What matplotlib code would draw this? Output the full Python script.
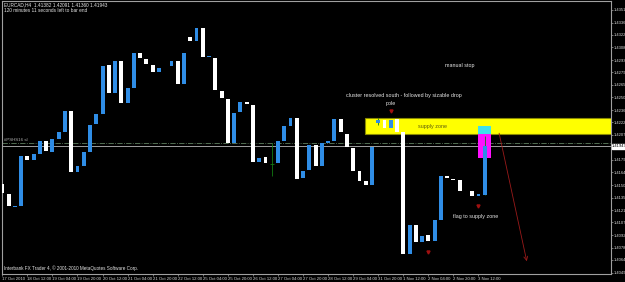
import matplotlib
matplotlib.use("Agg")
import matplotlib.pyplot as plt
from matplotlib.patches import Rectangle

plt.rcParams['font.family'] = ['Liberation Sans', 'DejaVu Sans']

# EURCAD H4 candles (open / close)
opens = [1.41508, 1.41394, 1.41250, 1.41256, 1.41828, 1.41783, 1.41851, 1.42000, 1.41874, 1.42023,
         1.42103, 1.42355, 1.41645, 1.41714, 1.41874, 1.42206, 1.42320, 1.42881, 1.42561, 1.42927,
         1.42446, 1.42618, 1.43018, 1.42949, 1.42881, 1.42801, 1.42850, 1.42869, 1.42927, 1.42663,
         1.43201, 1.43155, 1.43304, 1.42972, 1.42961, 1.42583, 1.42492, 1.41988, 1.42343, 1.42458,
         1.42423, 1.41760, 1.41817, 1.41737, 1.41748, 1.42000, 1.42172, 1.42274, 1.41577, 1.41668,
         1.41954, 1.41714, 1.41988, 1.42000, 1.42263, 1.42091, 1.41920, 1.41657, 1.41542, 1.41497,
         1.42217, 1.42252, 1.42149, 1.42263, 1.42114, 1.40707, 1.41039, 1.40844, 1.40925, 1.40856,
         1.41096, 1.41600, 1.41565, 1.41554, 1.41428, 1.41428, 1.41371, 1.41382]
closes = [1.41405, 1.41256, 1.41262, 1.41828, 1.41783, 1.41851, 1.42000, 1.41886, 1.42023, 1.42103,
          1.42355, 1.41645, 1.41714, 1.41874, 1.42194, 1.42320, 1.42869, 1.42561, 1.42927, 1.42446,
          1.42618, 1.43018, 1.42961, 1.42892, 1.42801, 1.42847, 1.42852, 1.42927, 1.42663, 1.43018,
          1.43155, 1.43304, 1.42972, 1.42980, 1.42595, 1.42503, 1.41988, 1.42332, 1.42458, 1.42435,
          1.41760, 1.41805, 1.41748, 1.41737, 1.42000, 1.42172, 1.42274, 1.41565, 1.41657, 1.41954,
          1.41714, 1.41988, 1.42000, 1.42263, 1.42103, 1.41931, 1.41657, 1.41542, 1.41497, 1.41931,
          1.42252, 1.42149, 1.42252, 1.42114, 1.40707, 1.41039, 1.40844, 1.40913, 1.40856, 1.41096,
          1.41600, 1.41577, 1.41554, 1.41428, 1.41428, 1.41371, 1.41394, 1.41943]

# only the wicks that are visible on the chart
wick_idx = [43, 60, 77]
wick_high = [1.41988, 1.42274, 1.42057]
wick_low = [1.41600, 1.42194, 1.41382]

price_ticks = ['1.43510', '1.43365', '1.43225', '1.43080', '1.42935', '1.42795', '1.42650', '1.42505',
               '1.42360', '1.42220', '1.42075', '1.41930', '1.41790', '1.41645', '1.41500', '1.41355',
               '1.41210', '1.41070', '1.40925', '1.40780', '1.40640', '1.40490']
time_labels = ['17 Oct 2010', '18 Oct 12:00', '19 Oct 04:00', '19 Oct 20:00', '20 Oct 12:00',
               '21 Oct 04:00', '21 Oct 20:00', '22 Oct 12:00', '25 Oct 04:00', '25 Oct 20:00',
               '26 Oct 12:00', '27 Oct 04:00', '27 Oct 20:00', '28 Oct 12:00', '29 Oct 04:00',
               '31 Oct 20:00', '1 Nov 12:00', '2 Nov 04:00', '2 Nov 20:00', '3 Nov 12:00']

bid = 1.41943
sl_level = 1.41988
supply_top, supply_bottom = 1.42274, 1.42091
cyan_top, magenta_bottom = 1.42172, 1.41805

fig = plt.figure(figsize=(6.25, 2.82), dpi=100, facecolor='black')
ax = fig.add_axes([2 / 625, 1 - 274 / 282, 609 / 625, 273 / 282], facecolor='black')

n = len(opens)
x = list(range(n))
blue = '#2f8de6'
bull = [c >= o for o, c in zip(opens, closes)]
bottoms = [min(o, c) for o, c in zip(opens, closes)]
heights = [abs(c - o) for o, c in zip(opens, closes)]
colors = [blue if b else 'white' for b in bull]

# zones and boxes
ax.add_patch(Rectangle((57.9, supply_bottom), 40, supply_top - supply_bottom,
                       facecolor='#ffff00', edgecolor='#8a8a00', lw=0.8, zorder=1))
ax.add_patch(Rectangle((76, supply_bottom), 2, cyan_top - supply_bottom,
                       facecolor='#3fe0ea', edgecolor='none', zorder=1.5))
ax.add_patch(Rectangle((76, magenta_bottom), 2, supply_bottom - magenta_bottom,
                       facecolor='#ff10ff', edgecolor='none', zorder=1.5))

# lines
ax.axhline(sl_level, color='#5f7f5f', lw=0.6, ls='-.', zorder=1.2)
ax.axhline(bid, color='#b8b8b8', lw=0.6, zorder=1.2)

# wicks and candles
ax.vlines([x[i] for i in wick_idx], wick_low, wick_high, color='#127a12', lw=0.6, zorder=2)
ax.hlines(closes[43], 42.7, 43.3, color='#127a12', lw=0.6, zorder=2)
ax.bar(x, heights, bottom=bottoms, width=0.62, color=colors, linewidth=0, zorder=3)

# arrows and annotations
ax.plot([62, 76, 68], [1.42355, 1.41256, 1.40730], 'v', color='#a01010', ms=2.2, zorder=4)
ax.annotate('', xy=(83.8, 1.40593), xytext=(79.2, 1.42126),
            arrowprops=dict(arrowstyle='->', color='#9a1a1a', lw=0.6,
                            mutation_scale=7), zorder=4)

tcol = '#e6e6e6'
fs = 3.9
ax.text(73, 1.42869, 'manual stop', color=tcol, fontsize=fs, ha='center', va='center')
ax.text(54.8, 1.42532, 'cluster resolved south - followed by sizable drop', color=tcol,
        fontsize=fs, ha='left', va='center')
ax.text(62, 1.42435, 'pole', color=tcol, fontsize=fs, ha='center', va='center')
ax.text(66.4, 1.42172, 'supply zone', color='#5a5a10', fontsize=fs, ha='left', va='center', zorder=4)
ax.text(72, 1.41142, 'flag to supply zone', color=tcol, fontsize=fs, ha='left', va='center')
ax.text(0.2, 1.42020, '#PSHS16 sl', color='#b0b0b0', fontsize=3.2, ha='left', va='center')

ax.text(0.003, 0.995, 'EURCAD,H4  1.41382 1.42091 1.41360 1.41943', color=tcol, fontsize=3.4,
        transform=ax.transAxes, ha='left', va='top')
ax.text(0.003, 0.973, '120 minutes 11 seconds left to bar end', color=tcol, fontsize=3.4,
        transform=ax.transAxes, ha='left', va='top')
ax.text(0.003, 0.012, 'Interbank FX Trader 4, \u00a9 2001-2010 MetaQuotes Software Corp.',
        color=tcol, fontsize=3.3, transform=ax.transAxes, ha='left', va='bottom')

# axes
ax.set_xlim(-0.05, 97.15)
ax.set_ylim(1.40478, 1.43613)
for s in ax.spines.values():
    s.set_color('#a0a0a0')
    s.set_linewidth(0.8)

ax.yaxis.tick_right()
ax.set_yticks([float(t) for t in price_ticks])
ax.set_yticklabels(price_ticks)
ax.tick_params(axis='y', colors='#a0a0a0', labelcolor='#d8d8d8', labelsize=3.0,
               length=1.5, width=0.5, pad=0.5)

ax.set_xticks([4 * k for k in range(len(time_labels))])
ax.set_xticklabels(time_labels, ha='left')
ax.tick_params(axis='x', colors='#a0a0a0', labelcolor='#d8d8d8', labelsize=3.1,
               length=1.5, width=0.5, pad=0.5)

ax.text(1.002, bid, '1.41943', color='black', fontsize=3.0, transform=ax.get_yaxis_transform(),
        ha='left', va='center', zorder=10, clip_on=False,
        bbox=dict(boxstyle='square,pad=0.1', facecolor='white', edgecolor='white'))

fig.savefig('out.png', dpi=100, facecolor='black')
